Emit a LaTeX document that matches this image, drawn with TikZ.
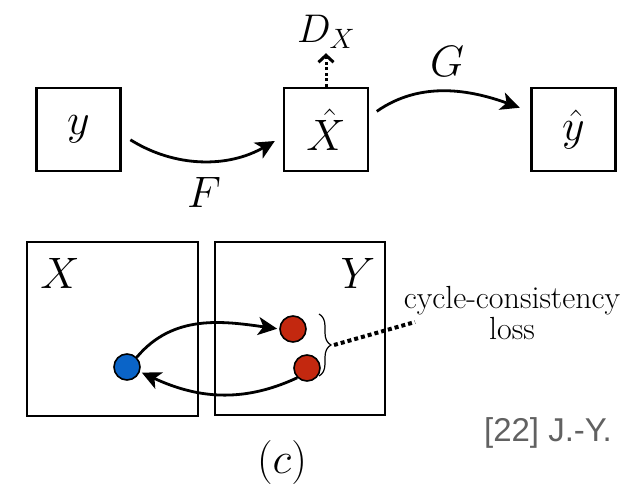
\documentclass[tikz,border=0pt]{standalone}
\usepackage{fix-cm}
\usepackage{amsmath}
\usepackage{fontspec}
\newfontfamily\citefont{Liberation Sans}
\usetikzlibrary{arrows.meta,decorations.pathreplacing}
\definecolor{dotblue}{RGB}{10,100,200}
\definecolor{dotred}{RGB}{195,40,15}
\newcommand{\mathsz}{\fontsize{44}{50}\selectfont}

\begin{document}
\begin{tikzpicture}[x=1pt,y=1pt,>={Stealth[length=19pt,width=18pt,inset=5pt]},
  box/.style={draw,line width=2.8pt,minimum width=84pt,minimum height=83pt,inner sep=0pt,font=\mathsz},
  region/.style={draw,line width=2.8pt,inner sep=0pt},
  flow/.style={line width=2.8pt},
  point/.style={circle,draw,line width=1.6pt,minimum size=26pt,inner sep=0pt}]
\useasboundingbox (0,0) rectangle (631,488);

% top row
\node[box] (y) at (78.5,358.5) {$y$};
\node[box] (xh) at (326,358.5) {$\hat{X}$};
\node[box] (yh) at (573.5,358.5) {$\hat{y}$};
\node[font=\fontsize{40}{46}\selectfont] (dx) at (326,456) {$D_X$};

\draw[flow,->,shorten <=10pt,shorten >=9pt] (y.east) ++(0,-5) coordinate (f0)
  (f0) to[out=-32,in=-150] ([yshift=-7pt]xh.west);
\draw[flow,->,shorten <=9pt,shorten >=11pt] ([yshift=13pt]xh.east) to[out=35,in=160] ([yshift=18pt]yh.west);
\draw[line width=3pt,dash pattern=on 3pt off 2.5pt,-{Straight Barb[length=7pt,width=15pt,line width=3pt]}]
  (xh.north) -- ([yshift=-1pt]dx.south);

\node[font=\mathsz] (F) at (204,296) {$F$};
\node[font=\mathsz] (G) at (447,427) {$G$};

% bottom row
\node[region,minimum width=171pt,minimum height=174pt] (rx) at (112.5,159) {};
\node[region,minimum width=170pt,minimum height=173pt] (ry) at (300,159.5) {};
\node[font=\mathsz] (lx) at (60,215) {$X$};
\node[font=\mathsz] (ly) at (358,215) {$Y$};

\node[point,fill=dotblue] (b) at (127,121) {};
\node[point,fill=dotred] (r1) at (293,159) {};
\node[point,fill=dotred] (r2) at (307,120) {};

\draw[flow,->,shorten >=2pt] (b.45) to[out=50,in=172] (r1.west);
\draw[flow,->,shorten >=2pt] (r2.225) to[out=205,in=-25] (b.-20);

\draw[line width=1.2pt,decorate,decoration={brace,amplitude=12pt}]
  (319,174) -- (319,112) coordinate[midway,xshift=15pt] (tip);
\coordinate (lossend) at (415,166);
\draw[line width=4pt,dash pattern=on 4pt off 3pt] (tip) -- (lossend);
\node[align=center,font=\fontsize{32}{31}\selectfont] (loss) at (512,175) {cycle-consistency\\loss};

\node[font=\mathsz] (cap) at (282,26) {$(c)$};
\node[font=\citefont\fontsize{33}{38}\selectfont,text=black!62] (cite) at (548,55) {[22] J.-Y.};
\end{tikzpicture}
\end{document}
